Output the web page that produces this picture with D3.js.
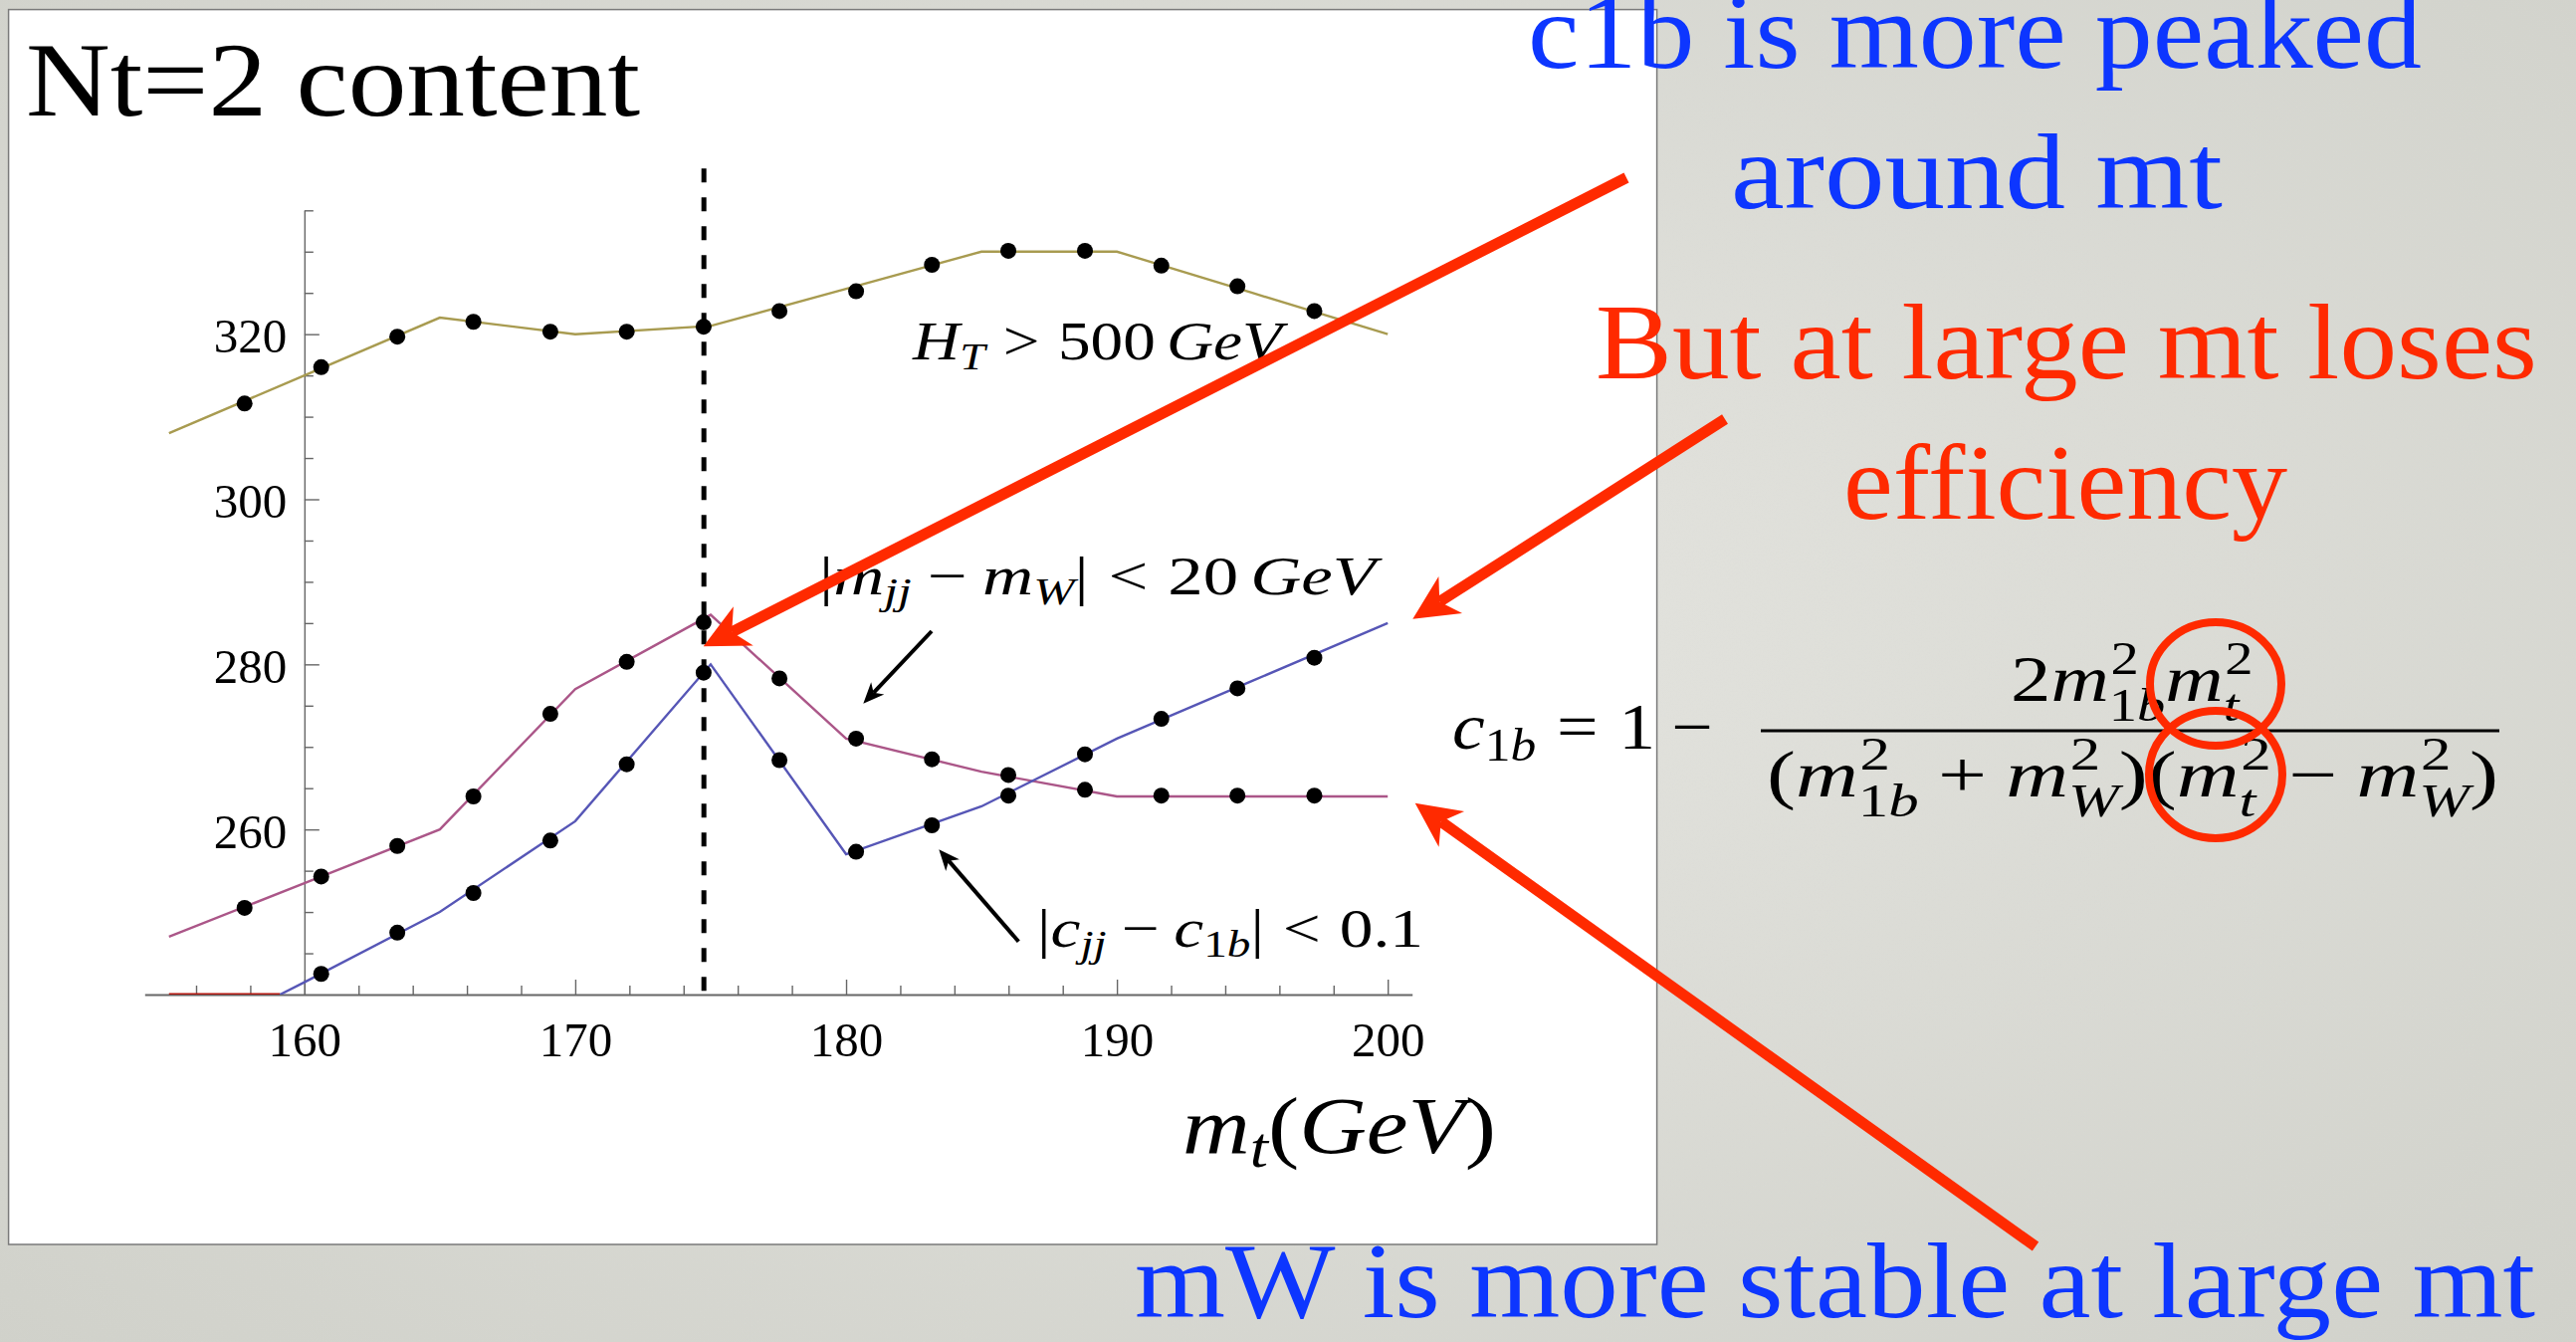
<!DOCTYPE html>
<html>
<head>
<meta charset="utf-8">
<script src="https://cdn.jsdelivr.net/npm/d3@7"></script>
<style>
  html, body { margin: 0; padding: 0; overflow: hidden; background: #dcdcd6; }
  svg { display: block; }
  text { font-family: "Liberation Serif", "Times New Roman", serif; }
</style>
</head>
<body>
<script>
// ---- selection curves vs. top mass (curve vertices) ----
const massGrid = [155, 160, 165, 170, 175, 180, 185, 190, 195, 200];
const htCut    = [308, 315, 322, 320, 321, 325.5, 330, 330, 325, 320];
const mjjCut   = [247, 253.5, 260, 277, 286, 271, 267, 264, 264, 264];
const c1bMass  = [159.1, 160, 165, 170, 175, 180, 185, 190, 195, 200];
const c1bCut   = [240, 241.5, 250, 261, 280, 257, 262.8, 271, 278, 285];
const offMass  = [155, 159.1];
const offLevel = [240, 240];

// ---- sampled points ----
const sampleMass = [157.79, 160.62, 163.43, 166.24, 169.08, 171.9, 174.74, 177.54,
                    180.37, 183.17, 185.99, 188.82, 191.64, 194.45, 197.29];
const htPts  = [311.6, 316.0, 319.7, 321.5, 320.3, 320.3, 320.9, 322.8, 325.2, 328.4, 330.1, 330.1, 328.3, 325.8, 322.8];
const mjjPts = [250.5, 254.3, 258.0, 264.0, 274.0, 280.3, 285.1, 278.3, 271.0, 268.5, 266.6, 264.8, 264.1, 264.1, 264.1];
const c1bPts = [null, 242.5, 247.5, 252.3, 258.65, 267.9, 279.0, 268.4, 257.3, 260.5, 264.1, 269.1, 273.4, 277.1, 280.8];

// ---- ticks ----
const xMajor = [160, 170, 180, 190, 200];
const xMinor = [156, 158, 162, 164, 166, 168, 172, 174, 176, 178, 182, 184, 186, 188, 192, 194, 196, 198];
const yMajor = [260, 280, 300, 320];
const yMinor = [245, 250, 255, 265, 270, 275, 285, 290, 295, 305, 310, 315, 325, 330, 335];
const refMass = 174.75;

// ---- text ----
const titleText = "Nt=2 content";
const noteLines = [
  { text: "c1b is more peaked", color: "blue" },
  { text: "around mt", color: "blue" },
  { text: "But at large mt loses", color: "red" },
  { text: "efficiency", color: "red" },
  { text: "mW is more stable at large mt", color: "blue" }
];

const W = 2588, H = 1348;
const BLUE = "#0d36ff", RED = "#ff2a00";

const svg = d3.select("body").append("svg").attr("width", W).attr("height", H);
const defs = svg.append("defs");

// slide background
const rg = defs.append("radialGradient").attr("id", "bg").attr("cx", "50%").attr("cy", "45%").attr("r", "75%");
rg.append("stop").attr("offset", "0%").attr("stop-color", "#e6e6e1");
rg.append("stop").attr("offset", "100%").attr("stop-color", "#d1d2cb");
const noise = defs.append("filter").attr("id", "grain").attr("x", 0).attr("y", 0).attr("width", "100%").attr("height", "100%");
noise.append("feTurbulence").attr("type", "fractalNoise").attr("baseFrequency", 0.7).attr("numOctaves", 2).attr("seed", 3);
noise.append("feColorMatrix").attr("values", "0 0 0 0 0.5  0 0 0 0 0.5  0 0 0 0 0.48  0 0 0 0.07 0");
svg.append("rect").attr("width", W).attr("height", H).attr("fill", "url(#bg)");
svg.append("rect").attr("width", W).attr("height", H).attr("filter", "url(#grain)");

// white plot panel
svg.append("rect").attr("x", 8.6).attr("y", 9.6).attr("width", 1656).attr("height", 1240.4)
  .attr("fill", "#ffffff").attr("stroke", "#7a7a7a").attr("stroke-width", 1.5);

// title
svg.append("text").attr("x", 26).attr("y", 116).attr("font-size", 106)
  .attr("textLength", 617).attr("lengthAdjust", "spacingAndGlyphs").text(titleText);

// ---- scales ----
const x = d3.scaleLinear().domain([154.1, 200.9]).range([145.3, 1418.7]);
const y = d3.scaleLinear().domain([240, 335]).range([999.0, 211.3]);

const plot = svg.append("g");
defs.append("clipPath").attr("id", "plotClip").append("rect")
  .attr("x", x(154.1)).attr("y", y(335) - 10).attr("width", x(200.9) - x(154.1)).attr("height", y(240) - y(335) + 10);

// ---- axes ----
const AX = "#666";
function styleAxis(g) {
  g.select(".domain").attr("stroke", AX);
  g.selectAll(".tick line").attr("stroke", AX).attr("stroke-width", 1.4);
  g.selectAll("text").attr("font-family", "Liberation Serif").attr("font-size", 49).attr("fill", "#000");
}
const gx = plot.append("g").attr("transform", `translate(0,${y(240)})`);
gx.call(d3.axisBottom(x).tickValues(xMajor).tickSizeInner(-15).tickSizeOuter(0).tickPadding(27).tickFormat(d3.format("d")));
gx.append("g").call(d3.axisBottom(x).tickValues(xMinor).tickSizeInner(-9).tickSizeOuter(0).tickFormat(""))
  .call(g => g.select(".domain").remove());
styleAxis(gx);
gx.select(".domain").attr("stroke-width", 2.2);

const gy = plot.append("g").attr("transform", `translate(${x(160)},0)`);
gy.call(d3.axisLeft(y).tickValues(yMajor).tickSizeInner(-15).tickSizeOuter(0).tickPadding(17.5).tickFormat(d3.format("d")));
gy.append("g").call(d3.axisLeft(y).tickValues(yMinor).tickSizeInner(-9).tickSizeOuter(0).tickFormat(""))
  .call(g => g.select(".domain").remove());
styleAxis(gy);
gy.select(".domain").attr("stroke-width", 1.4);
gy.selectAll(".tick text").attr("dy", "0.37em");

// ---- curves ----
const lineGen = d3.line().x(d => x(d[0])).y(d => y(d[1]));
const curves = plot.append("g").attr("clip-path", "url(#plotClip)").attr("fill", "none").attr("stroke-width", 2.4);
curves.append("path").attr("d", lineGen(d3.zip(offMass, offLevel))).attr("stroke", "#b3160f").attr("stroke-width", 3.2);
curves.append("path").attr("d", lineGen(d3.zip(massGrid, htCut))).attr("stroke", "#a89b50");
curves.append("path").attr("d", lineGen(d3.zip(massGrid, mjjCut))).attr("stroke", "#ab5688");
curves.append("path").attr("d", lineGen(d3.zip(c1bMass, c1bCut))).attr("stroke", "#5656b6");

// reference top mass
plot.append("line").attr("x1", x(refMass)).attr("x2", x(refMass)).attr("y1", 169.3).attr("y2", y(240))
  .attr("stroke", "#000").attr("stroke-width", 5).attr("stroke-dasharray", "14 15");

// sampled points
const dots = plot.append("g").attr("fill", "#000");
[htPts, mjjPts, c1bPts].forEach(series => {
  dots.selectAll(null).data(d3.zip(sampleMass, series).filter(d => d[1] != null)).join("circle")
    .attr("cx", d => x(d[0])).attr("cy", d => y(d[1])).attr("r", 8);
});

// ---- math-style labels ----
function mathLine(parent, runs, opt) {
  const S = opt.size;
  const inner = parent.append("g").attr("fill", opt.fill || "#000");
  let cx = 0;
  const put = (t, italic, size, dy, xpos) => {
    const el = inner.append("text").attr("x", xpos).attr("y", dy).attr("font-size", size)
      .attr("font-style", italic ? "italic" : "normal").text(t);
    return el.node().getComputedTextLength();
  };
  runs.forEach(r => {
    cx += (r.pad || 0) * S;
    if (r.t) cx += put(r.t, r.i, S, 0, cx);
    let sw = 0;
    if (r.sup) sw = Math.max(sw, put(r.sup, false, S * 0.7, -0.41 * S, cx + 0.02 * S));
    if (r.sub) {
      let sx = cx;
      r.sub.forEach(([t, it]) => { sx += put(t, it, S * 0.7, (r.sup ? 0.3 : 0.18) * S, sx); });
      sw = Math.max(sw, sx - cx);
    }
    cx += sw + (r.pad || 0) * S + (r.after || 0) * S;
  });
  inner.attr("transform", `translate(${opt.x0},${opt.baseline}) scale(${(opt.x1 - opt.x0) / cx},1)`);
}

const labels = plot.append("g");
mathLine(labels, [
  { t: "H", i: true, sub: [["T", true]] },
  { t: ">", pad: 0.28 },
  { t: "500", after: 0.17 },
  { t: "GeV", i: true }
], { x0: 917, x1: 1288, baseline: 361, size: 55 });

mathLine(labels, [
  { t: "|" },
  { t: "m", i: true, sub: [["jj", true]] },
  { t: "\u2212", pad: 0.22 },
  { t: "m", i: true, sub: [["W", true]] },
  { t: "|" },
  { t: "<", pad: 0.28 },
  { t: "20", after: 0.17 },
  { t: "GeV", i: true }
], { x0: 823, x1: 1382, baseline: 597, size: 55 });

mathLine(labels, [
  { t: "|" },
  { t: "c", i: true, sub: [["jj", true]] },
  { t: "\u2212", pad: 0.22 },
  { t: "c", i: true, sub: [["1", false], ["b", true]] },
  { t: "|" },
  { t: "<", pad: 0.28 },
  { t: "0.1" }
], { x0: 1042, x1: 1430, baseline: 951, size: 55 });

mathLine(labels, [
  { t: "m", i: true, sub: [["t", true]] },
  { t: "(" },
  { t: "GeV", i: true },
  { t: ")" }
], { x0: 1188, x1: 1503, baseline: 1158, size: 80 });

// black pointer arrows
function arrow(g, x1, y1, x2, y2, o) {
  const dx = x2 - x1, dy = y2 - y1, len = Math.hypot(dx, dy);
  const ux = dx / len, uy = dy / len, nx = -uy, ny = ux;
  const bx = x2 - ux * o.notch, by = y2 - uy * o.notch;
  g.append("line").attr("x1", x1).attr("y1", y1).attr("x2", bx).attr("y2", by)
    .attr("stroke", o.color).attr("stroke-width", o.width);
  const hx = x2 - ux * o.len, hy = y2 - uy * o.len;
  g.append("path").attr("fill", o.color).attr("d",
    `M${x2},${y2}L${hx + nx * o.half},${hy + ny * o.half}L${bx},${by}L${hx - nx * o.half},${hy - ny * o.half}Z`);
}
const pointers = plot.append("g");
arrow(pointers, 936, 634, 867.3, 706.7, { color: "#000", width: 4, len: 21, half: 9, notch: 15 });
arrow(pointers, 1023.3, 945.7, 943.3, 853.3, { color: "#000", width: 4, len: 21, half: 9, notch: 15 });

// ---- formula for c1b ----
const formula = svg.append("g");
mathLine(formula, [
  { t: "c", i: true, sub: [["1", false], ["b", true]] },
  { t: "=", pad: 0.28 },
  { t: "1" },
  { t: "\u2212", pad: 0.22 }
], { x0: 1459, x1: 1737, baseline: 752, size: 66 });
mathLine(formula, [
  { t: "2" },
  { t: "m", i: true, sup: "2", sub: [["1", false], ["b", true]] },
  { t: "m", i: true, sup: "2", sub: [["t", true]] }
], { x0: 2020, x1: 2262, baseline: 704, size: 66 });
mathLine(formula, [
  { t: "(" },
  { t: "m", i: true, sup: "2", sub: [["1", false], ["b", true]] },
  { t: "+", pad: 0.22 },
  { t: "m", i: true, sup: "2", sub: [["W", true]] },
  { t: ")" },
  { t: "(" },
  { t: "m", i: true, sup: "2", sub: [["t", true]] },
  { t: "\u2212", pad: 0.22 },
  { t: "m", i: true, sup: "2", sub: [["W", true]] },
  { t: ")" }
], { x0: 1775, x1: 2510, baseline: 800, size: 66 });
formula.append("line").attr("x1", 1769).attr("x2", 2511).attr("y1", 734).attr("y2", 734)
  .attr("stroke", "#000").attr("stroke-width", 3);
formula.append("ellipse").attr("cx", 2226).attr("cy", 687).attr("rx", 66).attr("ry", 62)
  .attr("fill", "none").attr("stroke", RED).attr("stroke-width", 8);
formula.append("ellipse").attr("cx", 2226).attr("cy", 778).attr("rx", 67).attr("ry", 64)
  .attr("fill", "none").attr("stroke", RED).attr("stroke-width", 8);

// ---- slide notes ----
const notePos = [
  { x0: 1535, x1: 2433, base: 68 },
  { x0: 1739, x1: 2233, base: 209 },
  { x0: 1603, x1: 2549, base: 380 },
  { x0: 1852, x1: 2298, base: 521 },
  { x0: 1140, x1: 2547, base: 1323 }
];
svg.append("g").selectAll("text").data(noteLines).join("text")
  .attr("x", (d, i) => notePos[i].x0).attr("y", (d, i) => notePos[i].base)
  .attr("font-size", 108)
  .attr("textLength", (d, i) => notePos[i].x1 - notePos[i].x0)
  .attr("lengthAdjust", "spacingAndGlyphs")
  .attr("fill", d => d.color === "blue" ? BLUE : RED)
  .text(d => d.text);

// ---- red callout arrows ----
const callouts = svg.append("g");
arrow(callouts, 1634, 178.5, 706.7, 649.3, { color: RED, width: 11, len: 45, half: 22, notch: 32 });
arrow(callouts, 1733, 421, 1419.3, 621.7, { color: RED, width: 11, len: 45, half: 22, notch: 32 });
arrow(callouts, 2045, 1252, 1421.7, 806.7, { color: RED, width: 11, len: 45, half: 22, notch: 32 });
</script>
</body>
</html>
